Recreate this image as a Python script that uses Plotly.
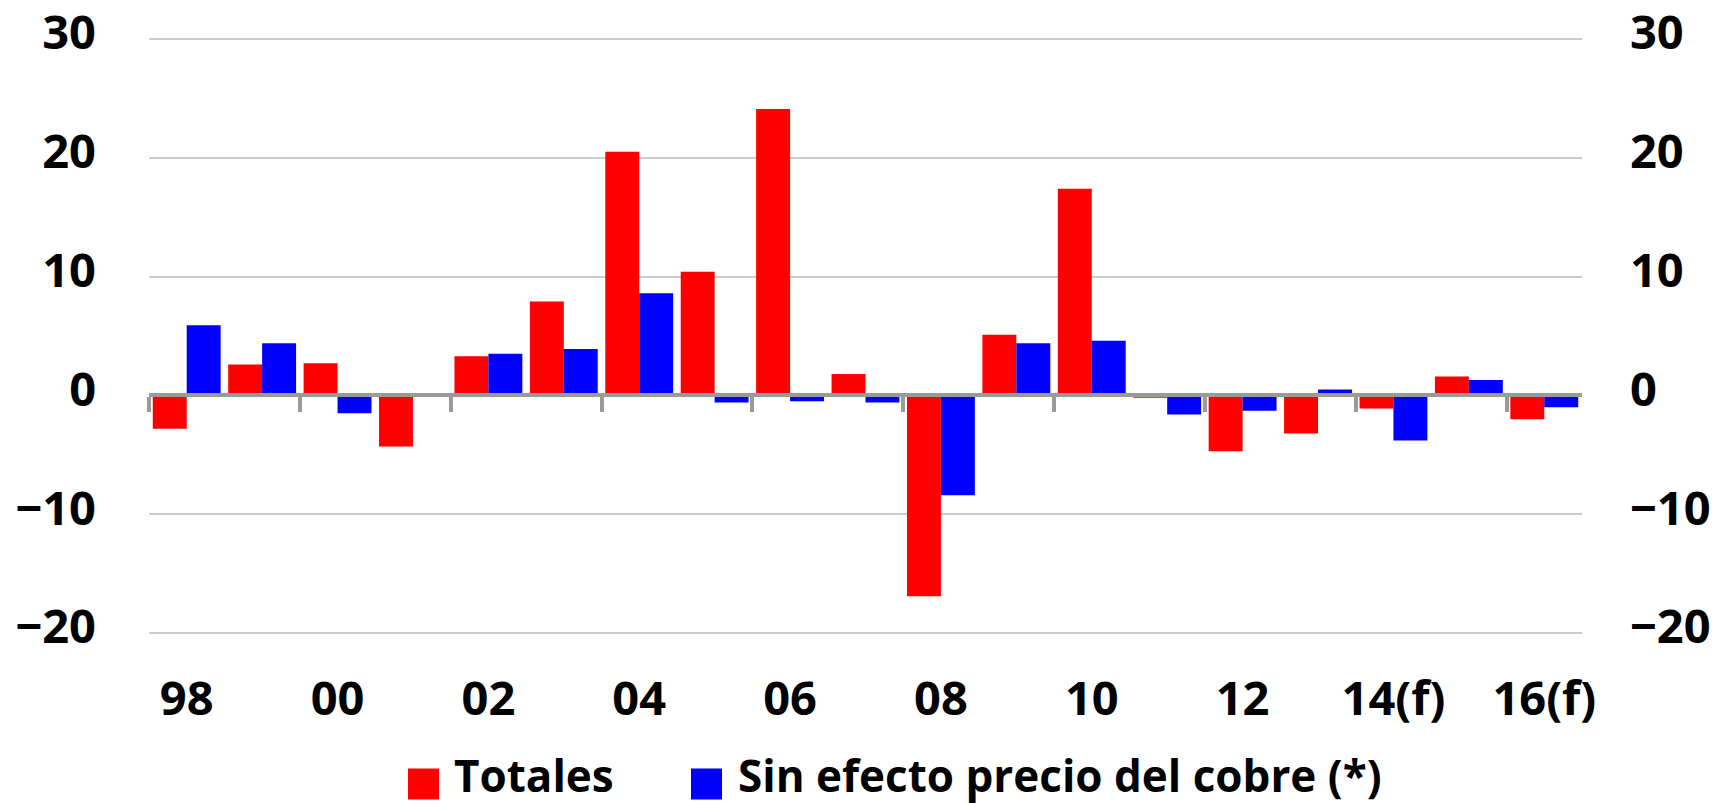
import plotly.graph_objects as go

categories = ["98", "99", "00", "01", "02", "03", "04", "05", "06", "07",
              "08", "09", "10", "11", "12", "13", "14(f)", "15(f)", "16(f)"]
totales = [-2.8, 2.6, 2.7, -4.3, 3.3, 7.9, 20.5, 10.4, 24.1, 1.8,
           -16.9, 5.1, 17.4, -0.2, -4.7, -3.2, -1.1, 1.6, -2.0]
sin_efecto = [5.9, 4.4, -1.5, None, 3.5, 3.9, 8.6, -0.6, -0.5, -0.6,
              -8.4, 4.4, 4.6, -1.6, -1.3, 0.5, -3.8, 1.3, -1.0]
series_names = ["Totales", "Sin efecto precio del cobre (*)"]
label_categories = categories[::2]
y_ticks = [-20, -10, 0, 10, 20, 30]

RED = "#FF0000"
BLUE = "#0000FF"
FONT = "Open Sans"
# the page body has an 8px default margin, so the figure is sized to fill the
# rest of the 1729x803 window
W, H = 1721, 795
ML, MR, MT, MB = 141, 147, 28, 167
Y_MIN, Y_MAX = -20.25, 30.25

fig = go.Figure()
fig.add_trace(go.Bar(x=categories, y=totales, name=series_names[0],
                     marker=dict(color=RED, line=dict(width=0)), showlegend=False))
fig.add_trace(go.Bar(x=categories, y=sin_efecto, name=series_names[1],
                     marker=dict(color=BLUE, line=dict(width=0)), showlegend=False))
# empty helper traces so the overlaid axes (zero-line ticks, right y axis) are drawn
fig.add_trace(go.Scatter(x=[], y=[], xaxis="x2", yaxis="y", showlegend=False,
                         hoverinfo="skip"))
fig.add_trace(go.Scatter(x=[], y=[], xaxis="x", yaxis="y2", showlegend=False,
                         hoverinfo="skip"))

n = len(categories)
boundary_ticks = [i - 0.5 for i in range(0, n, 2)]
zero_pos = (0 - Y_MIN) / (Y_MAX - Y_MIN)

tick_font = dict(family=FONT, size=47, color="#000000", weight="bold")

fig.update_layout(
    width=W, height=H,
    margin=dict(l=ML, r=MR, t=MT, b=MB, autoexpand=False),
    paper_bgcolor="white", plot_bgcolor="white",
    barmode="group", bargap=0.1, bargroupgap=0,
    xaxis=dict(type="category", tickmode="array", tickvals=label_categories,
               ticktext=label_categories, ticks="", showgrid=False,
               showline=False, zeroline=False, tickfont=tick_font,
               ticklabelstandoff=31, categoryorder="array",
               categoryarray=categories, automargin=False,
               ticklabeloverflow="allow"),
    xaxis2=dict(overlaying="x", anchor="free", position=zero_pos,
                range=[-0.5, n - 0.5], tickmode="array", tickvals=boundary_ticks,
                ticks="outside", ticklen=15, tickwidth=4, tickcolor="#9a9a9a",
                showline=True, linewidth=4, linecolor="#9a9a9a",
                showticklabels=False, showgrid=False, zeroline=False,
                layer="above traces", automargin=False),
    yaxis=dict(range=[Y_MIN, Y_MAX], tickmode="array", tickvals=y_ticks,
               showgrid=True, gridcolor="#cccccc", gridwidth=2,
               zeroline=False, showline=False, ticks="",
               tickfont=tick_font, ticklabelstandoff=52, ticklabelshift=-6,
               automargin=False, ticklabeloverflow="allow"),
    yaxis2=dict(range=[Y_MIN, Y_MAX], overlaying="y", side="right",
                tickmode="array", tickvals=y_ticks, showgrid=False,
                zeroline=False, showline=False, ticks="",
                tickfont=tick_font, ticklabelstandoff=47, ticklabelshift=-6,
                automargin=False, ticklabeloverflow="allow"),
)

# Manual legend (larger swatches than plotly's built-in legend allows)
pw = W - ML - MR
ph = H - MT - MB

def px_x(px):
    return (px - ML) / pw

def px_y(py):
    return (H - MB - py) / ph

legend_items = [
    (series_names[0], RED, 400, 444),
    (series_names[1], BLUE, 683, 728),
]
sq = 31
sq_cy = 776
txt_cy = 767
for name, color, sx, tx in legend_items:
    fig.add_shape(type="rect", xref="paper", yref="paper",
                  x0=px_x(sx), x1=px_x(sx + sq),
                  y0=px_y(sq_cy + sq / 2), y1=px_y(sq_cy - sq / 2),
                  fillcolor=color, line=dict(width=0))
    fig.add_annotation(xref="paper", yref="paper", x=px_x(tx), y=px_y(txt_cy),
                       xanchor="left", yanchor="middle", text=name, showarrow=False,
                       font=dict(family=FONT, size=44, color="#000000", weight="bold"))

fig.write_html("out.html")
